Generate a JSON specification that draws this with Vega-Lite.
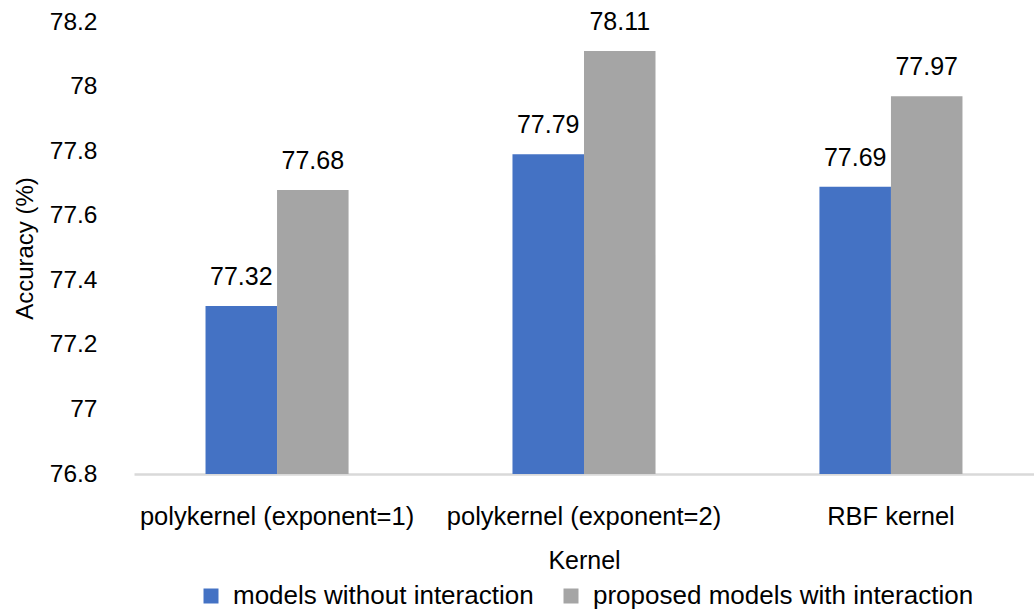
{
  "$schema": "https://vega.github.io/schema/vega-lite/v6.json",
  "autosize": "none",
  "width": 900,
  "height": 452,
  "padding": {"left": 134, "top": 22, "right": 0, "bottom": 135},
  "background": "white",
  "config": {
    "font": "Liberation Sans",
    "view": {"stroke": null},
    "axis": {"labelFont": "Liberation Sans", "titleFont": "Liberation Sans", "labelColor": "#000000", "titleColor": "#000000", "titleFontWeight": "normal"},
    "legend": {"labelFont": "Liberation Sans", "labelColor": "#000000"},
    "text": {"font": "Liberation Sans"}
  },
  "data": {
    "values": [
      {"kernel": "polykernel (exponent=1)", "model": "models without interaction", "accuracy": 77.32},
      {"kernel": "polykernel (exponent=1)", "model": "proposed models with interaction", "accuracy": 77.68},
      {"kernel": "polykernel (exponent=2)", "model": "models without interaction", "accuracy": 77.79},
      {"kernel": "polykernel (exponent=2)", "model": "proposed models with interaction", "accuracy": 78.11},
      {"kernel": "RBF kernel", "model": "models without interaction", "accuracy": 77.69},
      {"kernel": "RBF kernel", "model": "proposed models with interaction", "accuracy": 77.97}
    ]
  },
  "encoding": {
    "x": {
      "field": "kernel",
      "type": "nominal",
      "sort": null,
      "title": "Kernel",
      "scale": {"paddingInner": 0.068, "paddingOuter": 0},
      "axis": {
        "labelAngle": 0,
        "labelFontSize": 25.5,
        "labelBaseline": "alphabetic",
        "labelPadding": 50,
        "labelLimit": 500,
        "ticks": false,
        "tickSize": 0,
        "domainColor": "#d9d9d9",
        "domainWidth": 2.5,
        "titleFontSize": 25,
        "titleBaseline": "alphabetic",
        "titleY": 94
      }
    },
    "xOffset": {
      "field": "model",
      "type": "nominal",
      "sort": null,
      "scale": {"paddingInner": 0, "paddingOuter": 1.134}
    },
    "y": {
      "field": "accuracy",
      "type": "quantitative",
      "stack": null,
      "title": "Accuracy (%)",
      "scale": {"domain": [76.8, 78.2], "nice": false, "zero": false},
      "axis": {
        "values": [76.8, 77.0, 77.2, 77.4, 77.6, 77.8, 78.0, 78.2],
        "format": ".1~f",
        "grid": false,
        "domain": false,
        "ticks": false,
        "tickSize": 0,
        "labelFontSize": 24.5,
        "labelPadding": 37,
        "titleFontSize": 24,
        "titleAngle": 270,
        "titleAlign": "center",
        "titleBaseline": "middle",
        "titleX": -109,
        "titleY": 226
      }
    }
  },
  "layer": [
    {
      "mark": {"type": "bar", "clip": true},
      "encoding": {
        "color": {
          "field": "model",
          "type": "nominal",
          "sort": null,
          "title": null,
          "scale": {"range": ["#4472c4", "#a5a5a5"]},
          "legend": {
            "orient": "none",
            "legendX": 64,
            "legendY": 561,
            "direction": "horizontal",
            "columns": 2,
            "symbolType": "square",
            "symbolSize": 225,
            "symbolStrokeWidth": 0,
            "labelFontSize": 26,
            "labelOffset": 9,
            "columnPadding": 24,
            "labelLimit": 500
          }
        }
      }
    },
    {
      "mark": {"type": "text", "baseline": "alphabetic", "dy": -21, "fontSize": 25, "color": "#000000"},
      "encoding": {
        "text": {"field": "accuracy", "type": "quantitative", "format": ".2f"}
      }
    }
  ]
}
